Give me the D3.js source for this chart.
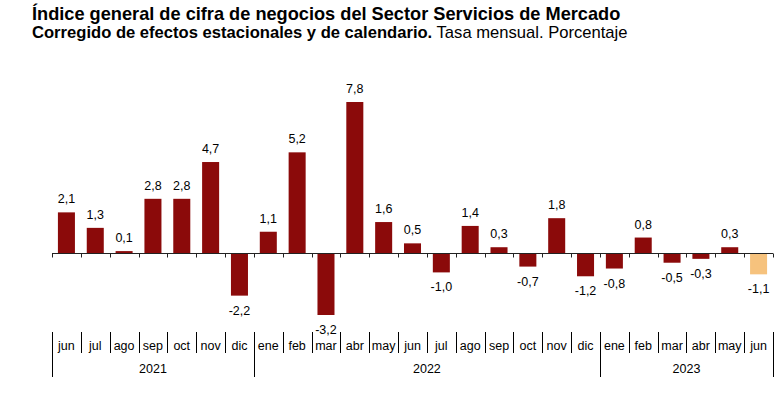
<!DOCTYPE html>
<html>
<head>
<meta charset="utf-8">
<script src="https://cdn.jsdelivr.net/npm/d3@7"></script>
<style>
  body { margin: 0; background: #fff; }
  text { font-family: "Liberation Sans", Arial, sans-serif; fill: #000; }
</style>
</head>
<body>
<svg width="780" height="396"></svg>
<script>
var months = ["jun","jul","ago","sep","oct","nov","dic",
              "ene","feb","mar","abr","may","jun","jul","ago","sep","oct","nov","dic",
              "ene","feb","mar","abr","may","jun"];
var values = [2.1, 1.3, 0.1, 2.8, 2.8, 4.7, -2.2,
              1.1, 5.2, -3.2, 7.8, 1.6, 0.5, -1.0, 1.4, 0.3, -0.7, 1.8, -1.2,
              -0.8, 0.8, -0.5, -0.3, 0.3, -1.1];
var years = [{label: "2021", from: 0, to: 7},
             {label: "2022", from: 7, to: 19},
             {label: "2023", from: 19, to: 25}];
var highlight = 24;

var svg = d3.select("svg"),
    x0 = 52, x1 = 773;

svg.append("text")
    .attr("x", 32).attr("y", 20)
    .style("font-size", "18.2px").style("font-weight", "bold")
    .text("Índice general de cifra de negocios del Sector Servicios de Mercado");

var sub = svg.append("text")
    .attr("x", 32).attr("y", 38)
    .style("font-size", "16.6px");
sub.append("tspan").style("font-weight", "bold").text("Corregido de efectos estacionales y de calendario.");
sub.append("tspan").text(" Tasa mensual. Porcentaje");

var idx = d3.range(values.length);

var x = d3.scaleBand()
    .domain(idx)
    .range([x0, x1])
    .paddingInner(0.41)
    .paddingOuter(0.205);

// boundaries between categories
var xb = d3.scaleLinear().domain([0, values.length]).range([x0, x1]);

var y = d3.scaleLinear()
    .domain([-3.2, 7.8])
    .range([315, 102]);

svg.append("g")
  .selectAll("rect")
  .data(values)
  .enter().append("rect")
    .attr("x", function(d, i) { return x(i); })
    .attr("width", x.bandwidth())
    .attr("y", function(d) { return y(Math.max(0, d)); })
    .attr("height", function(d) { return Math.abs(y(d) - y(0)); })
    .style("fill", function(d, i) { return i === highlight ? "#f6c27d" : "#8b0a0a"; });

// zero line with small ticks
var zero = svg.append("g").style("stroke", "#222").style("stroke-width", "1px");
zero.append("line")
    .attr("x1", x0).attr("x2", x1)
    .attr("y1", Math.round(y(0)) + 0.5).attr("y2", Math.round(y(0)) + 0.5);
zero.selectAll(".tk")
  .data(d3.range(values.length + 1))
  .enter().append("line")
    .attr("x1", function(d) { return Math.round(xb(d)) + 0.5; })
    .attr("x2", function(d) { return Math.round(xb(d)) + 0.5; })
    .attr("y1", Math.round(y(0)) + 0.5)
    .attr("y2", Math.round(y(0)) + 4.5);

// value labels
svg.append("g")
  .selectAll("text")
  .data(values)
  .enter().append("text")
    .attr("x", function(d, i) { return x(i) + x.bandwidth() / 2; })
    .attr("y", function(d) { return d >= 0 ? y(d) - 9 : y(d) + 19; })
    .style("font-size", "12.5px")
    .style("text-anchor", "middle")
    .text(function(d) { return d3.format(".1f")(d).replace("\u2212", "-").replace(".", ","); });

// bottom category axis
var axis = svg.append("g");
var yearBounds = [];
years.forEach(function(yr) { yearBounds.push(yr.from); yearBounds.push(yr.to); });

axis.selectAll("line")
  .data(d3.range(values.length + 1))
  .enter().append("line")
    .attr("x1", function(d) { return Math.round(xb(d)) + 0.5; })
    .attr("x2", function(d) { return Math.round(xb(d)) + 0.5; })
    .attr("y1", 332)
    .attr("y2", function(d) { return yearBounds.indexOf(d) >= 0 ? 377 : 353; })
    .style("stroke", "#000").style("stroke-width", "1px");

axis.selectAll(".m")
  .data(months)
  .enter().append("text")
    .attr("x", function(d, i) { return xb(i + 0.5); })
    .attr("y", 350)
    .style("font-size", "12.5px")
    .style("text-anchor", "middle")
    .text(function(d) { return d; });

axis.selectAll(".yr")
  .data(years)
  .enter().append("text")
    .attr("x", function(d) { return (xb(d.from) + xb(d.to)) / 2; })
    .attr("y", 373)
    .style("font-size", "12.5px")
    .style("text-anchor", "middle")
    .text(function(d) { return d.label; });
</script>
</body>
</html>
